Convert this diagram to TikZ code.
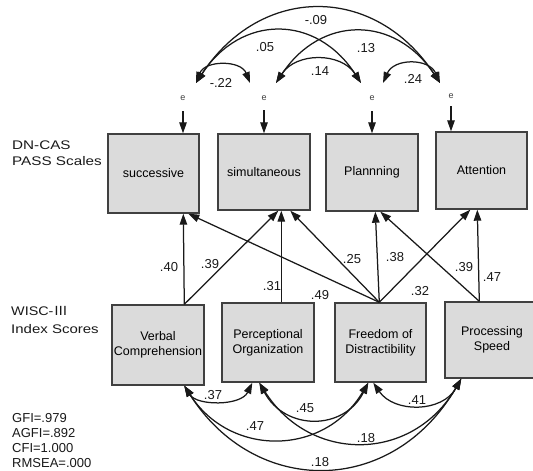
\documentclass[tikz,border=0pt]{standalone}
\usepackage{fontspec}
\usepackage{graphicx}
\setmainfont{Liberation Sans}
\newfontfamily\cjkfont{Noto Sans CJK JP}
\usetikzlibrary{arrows.meta,calc}
\begin{document}
\begin{tikzpicture}[x=1pt,y=-1pt,
  box/.style={draw=black!75, line width=1.4pt, fill=gray!28,
    inner sep=0pt, align=center, font=\fontsize{12.5}{15}\selectfont},
  regpath/.style={draw=black!90, line width=1.25pt, -{Triangle[length=11pt,width=7.5pt]}},
  cov/.style={draw=black!90, line width=1.25pt, {Triangle[length=11pt,width=7.5pt]}-{Triangle[length=11pt,width=7.5pt]}},
  coef/.style={inner sep=0pt, text=black!90, font=\fontsize{13}{15}\selectfont},
  errlab/.style={inner sep=0pt, text=black!75, font=\fontsize{9}{9}\selectfont},
  sidelab/.style={anchor=base west, inner sep=0pt, text=black!90, font=\fontsize{12.5}{15}\selectfont},
  fitlab/.style={anchor=base west, inner sep=0pt, text=black!90, font=\fontsize{13}{15}\selectfont}]
\useasboundingbox (0,0) rectangle (533,471);

% PASS scale boxes
\node[box, minimum width=91pt, minimum height=79pt] (succ) at (153.5,173.5) {successive};
\node[box, minimum width=92pt, minimum height=76pt] (simul) at (264,172) {simultaneous};
\node[box, minimum width=92pt, minimum height=77pt] (plan) at (372,172.5) {Plannning};
\node[box, minimum width=91pt, minimum height=77pt] (attn) at (481.5,170.5) {Attention};

% WISC boxes
\node[box, minimum width=92pt, minimum height=80pt] (vc) at (158,345) {Verbal\\Comprehension};
\node[box, minimum width=92pt, minimum height=79pt] (po) at (268,342.5) {Perceptional\\Organization};
\node[box, minimum width=91pt, minimum height=79pt] (fd) at (380.5,342.5) {Freedom of\\Distractibility};
\node[box, minimum width=94pt, minimum height=76pt] (ps) at (492,340) {Processing\\Speed};

% side labels
\node[sidelab] (dn1) at (12,149) {\scalebox{1.22}[1]{DN-CAS}};
\node[sidelab] (dn2) at (12,165) {\scalebox{1.22}[1]{PASS Scales}};
\node[sidelab] (wi1) at (11,315) {\scalebox{1.15}[1]{WISC-{\cjkfont Ⅲ}}};
\node[sidelab] (wi2) at (11,333) {\scalebox{1.2}[1]{Index Scores}};

\node[fitlab] (f1) at (12,422) {GFI=.979};
\node[fitlab] (f2) at (12,437) {AGFI=.892};
\node[fitlab] (f3) at (12,452) {CFI=1.000};
\node[fitlab] (f4) at (12,467) {RMSEA=.000};

% error terms
\node[errlab] (e1) at (183,98) {e};
\node[errlab] (e2) at (264,98) {e};
\node[errlab] (e3) at (372,98) {e};
\node[errlab] (e4) at (451,96) {e};
\draw[regpath] (e1) ++(0,13) -- (e1 |- succ.north);
\draw[regpath] (e2) ++(0,12) -- (e2 |- simul.north);
\draw[regpath] (e3) ++(0,13) -- (e3 |- plan.north);
\draw[regpath] (e4) ++(0,10) -- (e4 |- attn.north);

% error covariance end points
\coordinate (e1r) at (196,83);
\coordinate (e2a) at (250,83);
\coordinate (e2b) at (276,83);
\coordinate (e3a) at (361,83);
\coordinate (e3b) at (383,83);
\coordinate (e4a) at (440,83);

\draw[cov] (e1r) .. controls (205,60) and (241,60) .. (e2a);
\draw[cov] (e1r) .. controls (241,14) and (316,14) .. (e3a);
\draw[cov] (e1r) .. controls (261,-16) and (375,-16) .. (e4a);
\draw[cov] (e2b) .. controls (321,15) and (395,15) .. (e4a);
\draw[cov] (e2b) .. controls (296,52) and (341,52) .. (e3a);
\draw[cov] (e3b) .. controls (394,58) and (429,58) .. (e4a);

\node[coef] (k1) at (221,83) {-.22};
\node[coef] (k2) at (265,47) {.05};
\node[coef] (k3) at (316,20) {-.09};
\node[coef] (k4) at (366,48) {.13};
\node[coef] (k5) at (320,71) {.14};
\node[coef] (k6) at (413,79) {.24};

% regression path end points
\coordinate (vct) at ($(vc.north west)+(73,0)$);
\coordinate (pot) at ($(po.north west)+(60,0)$);
\coordinate (fdt) at ($(fd.north west)+(45,0)$);
\coordinate (pst) at ($(ps.north west)+(35,0)$);
\coordinate (sb1) at ($(succ.south west)+(76,0)$);
\coordinate (sb2) at ($(succ.south west)+(81,0)$);
\coordinate (mb1) at ($(simul.south west)+(61,0)$);
\coordinate (mb2) at ($(simul.south west)+(64,0)$);
\coordinate (mb3) at ($(simul.south west)+(73,0)$);
\coordinate (pb1) at ($(plan.south west)+(50,0)$);
\coordinate (pb2) at ($(plan.south west)+(55,0)$);
\coordinate (ab1) at ($(attn.south west)+(35,0)$);
\coordinate (ab2) at ($(attn.south west)+(42,0)$);

\draw[regpath] (vct) -- (sb1);
\draw[regpath] (vct) -- (mb1);
\draw[regpath] (pot) -- (mb2);
\draw[regpath] (fdt) -- (sb2);
\draw[regpath] (fdt) -- (mb3);
\draw[regpath] (fdt) -- (pb1);
\draw[regpath] (fdt) -- (ab1);
\draw[regpath] (pst) -- (pb2);
\draw[regpath] (pst) -- (ab2);

\node[coef] (r1) at (169,267) {.40};
\node[coef] (r2) at (210,264) {.39};
\node[coef] (r3) at (272,286) {.31};
\node[coef] (r4) at (320,295) {.49};
\node[coef] (r5) at (352,259) {.25};
\node[coef] (r6) at (395,257) {.38};
\node[coef] (r7) at (420,291) {.32};
\node[coef] (r8) at (464,267) {.39};
\node[coef] (r9) at (492,277) {.47};

% WISC covariance end points
\coordinate (vcb) at ($(vc.south west)+(73,0)$);
\coordinate (poa) at ($(po.south west)+(31,0)$);
\coordinate (pob) at ($(po.south west)+(38,0)$);
\coordinate (fda) at ($(fd.south west)+(34,0)$);
\coordinate (fdb) at ($(fd.south west)+(39,0)$);
\coordinate (psa) at ($(ps.south west)+(17,0)$);

\draw[cov] (vcb) .. controls (197,406) and (241,406) .. (poa);
\draw[cov] (pob) .. controls (285,431) and (344,431) .. (fda);
\draw[cov] (fdb) .. controls (394,413) and (442,413) .. (psa);
\draw[cov] (vcb) .. controls (230,457) and (324,457) .. (fda);
\draw[cov] (pob) .. controls (310,463) and (412,463) .. (psa);
\draw[cov] (vcb) .. controls (255,497) and (392,497) .. (psa);

\node[coef] (w1) at (213,395) {.37};
\node[coef] (w2) at (305,408) {.45};
\node[coef] (w3) at (417,400) {.41};
\node[coef] (w4) at (255,426) {.47};
\node[coef] (w5) at (366,438) {.18};
\node[coef] (w6) at (320,462) {.18};
\end{tikzpicture}
\end{document}
